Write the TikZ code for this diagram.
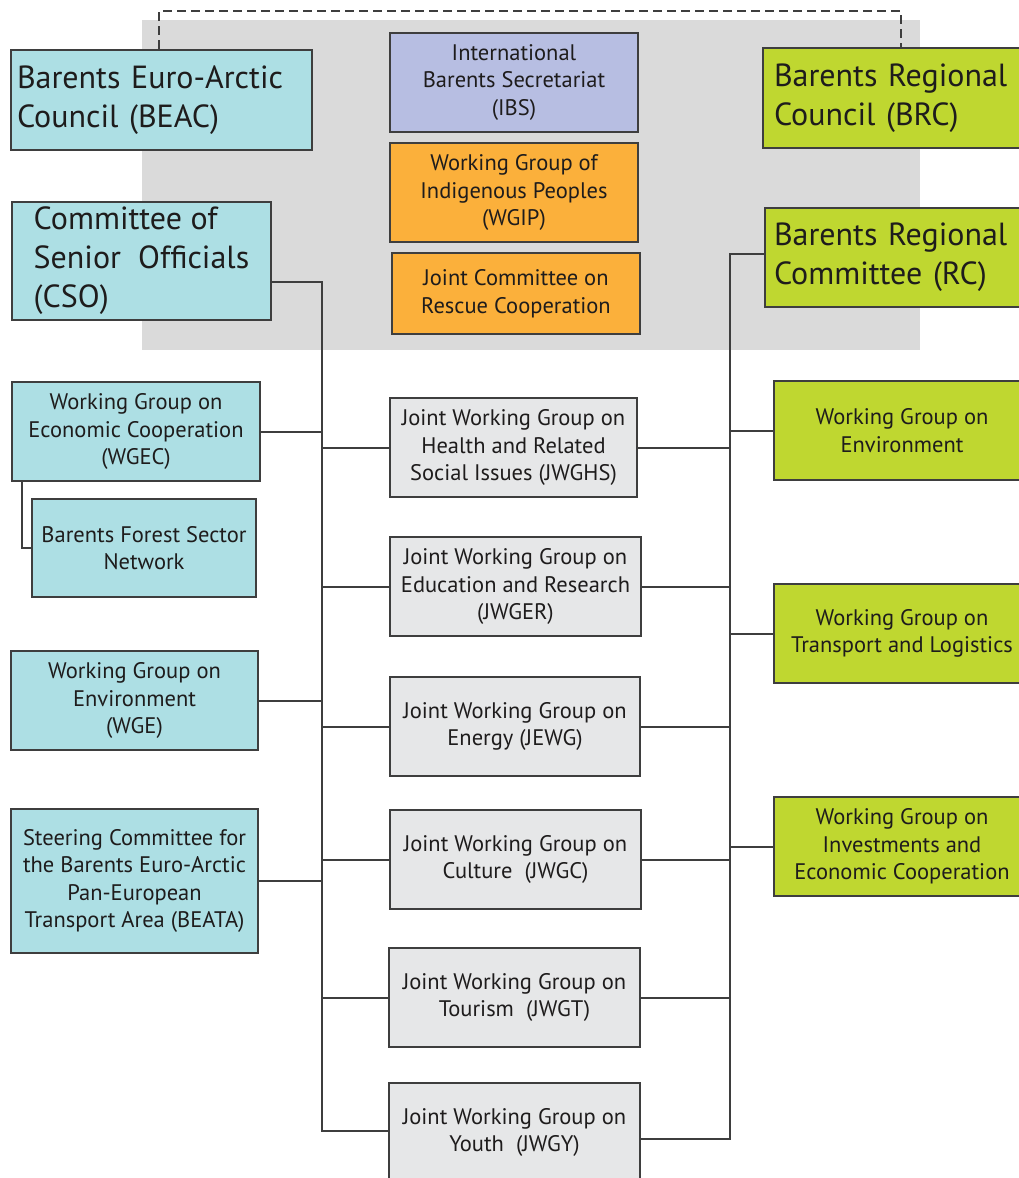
\documentclass[tikz,border=0pt]{standalone}
\usepackage{fontspec}
\setmainfont{PT Sans}
\usetikzlibrary{positioning, calc}
\definecolor{BarCyan}{RGB}{173,223,228}
\definecolor{BarLilac}{RGB}{183,190,226}
\definecolor{BarOrange}{RGB}{251,176,59}
\definecolor{BarGreen}{RGB}{191,215,48}
\definecolor{BarGrey}{RGB}{230,231,232}
\definecolor{BarShade}{RGB}{218,218,218}
\definecolor{BarLine}{RGB}{62,62,62}
\definecolor{BarText}{RGB}{30,28,28}
\tikzset{
  box/.style={draw=BarLine, line width=2.2pt, text=BarText, align=center, inner sep=0pt,
    minimum height=99, font=\fontsize{22.5}{27.5}\selectfont},
  bigbox/.style={box, align=left, font=\fontsize{32}{39}\selectfont},
  link/.style={draw=BarLine, line width=2pt},
  dashlink/.style={draw=BarLine, line width=2pt, dash pattern=on 9pt off 5pt},
}

\begin{document}
\begin{tikzpicture}[x=1pt,y=-1pt]
  \path[use as bounding box] (0,0) rectangle (1018,1178);
  \fill[BarShade] (142,20) rectangle (920,350);

  \node[bigbox, fill=BarCyan, minimum width=301, minimum height=100, text width=289, inner xsep=6] (beac) at (161.5,100) {Barents Euro-Arctic\\Council (BEAC)};
  \node[bigbox, fill=BarCyan, minimum width=259, minimum height=118] (cso) at (141.5,261) {Committee of\\Senior~ Officials\\(CSO)};
  \node[bigbox, fill=BarGreen, minimum width=267, minimum height=100, text width=245, inner xsep=11] (brc) at (896.5,98) {Barents Regional\\Council (BRC)};
  \node[bigbox, fill=BarGreen, minimum width=265, text width=247, inner xsep=9] (rc) at (897.5,257.5) {Barents Regional\\Committee (RC)};

  \node[box, fill=BarLilac, minimum width=248] (ibs) at (514,82.5) {International\\Barents Secretariat\\(IBS)};
  \node[box, fill=BarOrange, minimum width=248] (wgip) at (514,192.5) {Working Group of\\Indigenous Peoples\\(WGIP)};
  \node[box, fill=BarOrange, minimum width=248, minimum height=81] (jcrc) at (516,293.5) {Joint Committee on\\Rescue Cooperation};

  \node[box, fill=BarCyan, minimum width=248] (wgec) at (136,431.5) {Working Group on\\Economic Cooperation\\(WGEC)};
  \node[box, fill=BarCyan, minimum width=224, minimum height=98] (bfsn) at (144,548) {Barents Forest Sector\\Network};
  \node[box, fill=BarCyan, minimum width=247] (wge) at (134.5,700.5) {Working Group on\\Environment\\(WGE)};
  \node[box, fill=BarCyan, minimum width=247, minimum height=144] (beata) at (134.5,881) {Steering Committee for\\the Barents Euro-Arctic\\Pan-European\\Transport Area (BEATA)};

  \node[box, fill=BarGrey, minimum width=247] (jwghs) at (513.5,447.5) {Joint Working Group on\\Health and Related\\Social Issues (JWGHS)};
  \node[box, fill=BarGrey, minimum width=251] (jwger) at (515.5,586.5) {Joint Working Group on\\Education and Research\\(JWGER)};
  \node[box, fill=BarGrey, minimum width=250] (jewg) at (515,726.5) {Joint Working Group on\\Energy (JEWG)};
  \node[box, fill=BarGrey, minimum width=251] (jwgc) at (515.5,859.5) {Joint Working Group on\\Culture~ (JWGC)};
  \node[box, fill=BarGrey, minimum width=251] (jwgt) at (514.5,997.5) {Joint Working Group on\\Tourism~ (JWGT)};
  \node[box, fill=BarGrey, minimum width=251] (jwgy) at (514.5,1132.5) {Joint Working Group on\\Youth~ (JWGY)};

  \node[box, fill=BarGreen, minimum width=256] (wgenv) at (902,430.5) {Working Group on\\Environment};
  \node[box, fill=BarGreen, minimum width=256] (wgtl) at (902,633.5) {Working Group on\\Transport and Logistics};
  \node[box, fill=BarGreen, minimum width=256] (wgiec) at (902,846.5) {Working Group on\\Investments and\\Economic Cooperation};

  \coordinate (dtop) at (530,11);
  \coordinate (lbot) at (322,1131);
  \coordinate (rbot) at (730,1139);

  \draw[dashlink] ([xshift=-2.5pt]beac.north) |- (dtop) -| ([xshift=4.5pt]brc.north);
  \draw[link] ([yshift=-21pt]cso.east) -| (lbot) -- (lbot -| jwgy.west);
  \draw[link] ([yshift=3.5pt]rc.west) -| (rbot) -- (rbot -| jwgy.east);
  \draw[link] ([xshift=11pt]wgec.south west) |- (bfsn.west);
  \foreach \n in {wgec,wge,beata}
    \draw[link] (\n.east) -- (\n.east -| lbot);
  \foreach \n in {jwghs,jwger,jewg,jwgc,jwgt} {
    \draw[link] (\n.west) -- (\n.west -| lbot);
    \draw[link] (\n.east) -- (\n.east -| rbot);
  }
  \foreach \n in {wgenv,wgtl,wgiec}
    \draw[link] (\n.west) -- (\n.west -| rbot);
\end{tikzpicture}
\end{document}
